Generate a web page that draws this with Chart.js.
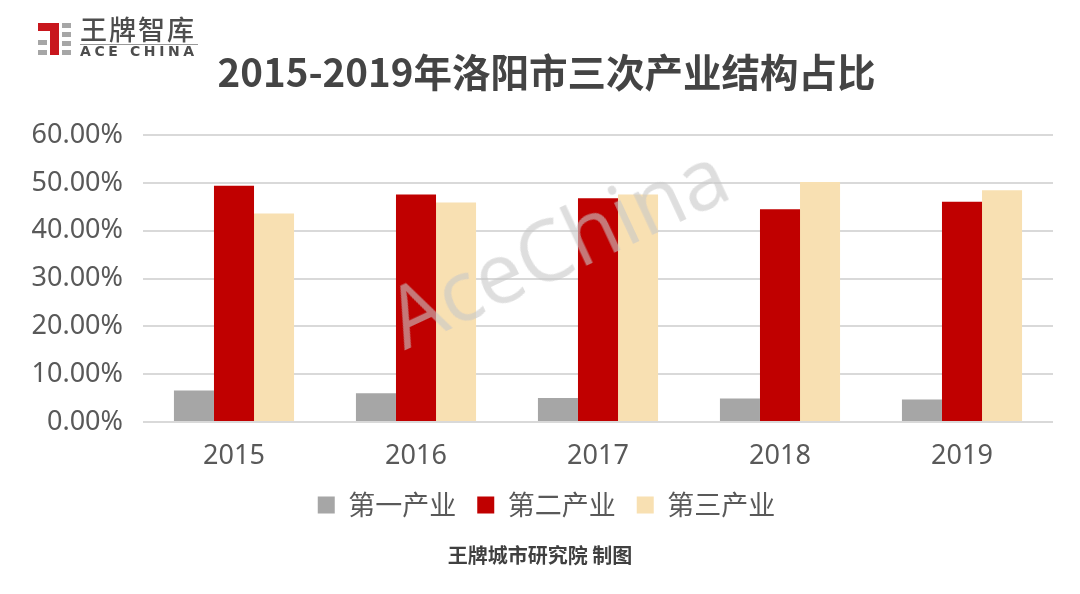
<!DOCTYPE html>
<html>
<head>
<meta charset="utf-8">
<script src="https://cdn.jsdelivr.net/npm/chart.js@4.4.0/dist/chart.umd.min.js"></script>
<style>
  html, body { margin: 0; padding: 0; background: #fff; }
  #wrap { position: relative; width: 1080px; height: 594px; overflow: hidden; }
  #chart { position: absolute; left: 0; top: 0; }
  .logo { position: absolute; left: 38px; top: 20px; width: 162px; height: 38px; }
  .logo .ic { position: absolute; background: #a6a6a6; }
  .logo .red { position: absolute; background: #c8161d; }
  .logo .cn { position: absolute; left: 42px; top: -5px; font: 500 27px "Noto Sans CJK SC", sans-serif; color: #4d4d4d; letter-spacing: 2px; line-height: 28px; }
  .logo .line { position: absolute; left: 42px; top: 24px; width: 118px; height: 1px; background: #999; }
  .logo .en { position: absolute; left: 42px; top: 24px; font: bold 14px "DejaVu Sans", sans-serif; color: #4d4d4d; letter-spacing: 3.6px; line-height: 15px; }
  .mark { position: absolute; left: 556px; top: 244px; transform: translate(-50%, -50%) rotate(-25deg);
          font: 84px "Open Sans", sans-serif; color: rgba(200, 200, 200, 0.6); white-space: nowrap; pointer-events: none; }
  .foot { position: absolute; left: 0; width: 1080px; top: 542px; text-align: center;
          font: bold 20px "Noto Sans CJK SC", sans-serif; color: #404040; line-height: 26px; }
</style>
</head>
<body>
<div id="wrap">
  <canvas id="chart" width="1080" height="594"></canvas>
  <div class="logo">
    <div class="red" style="left:12px;top:3px;width:9px;height:32px"></div>
    <div class="red" style="left:0;top:3px;width:12px;height:8px"></div>
    <div class="ic" style="left:0;top:20px;width:9px;height:5px"></div>
    <div class="ic" style="left:0;top:30px;width:9px;height:5px"></div>
    <div class="ic" style="left:24px;top:3px;width:9px;height:5px"></div>
    <div class="ic" style="left:24px;top:12px;width:9px;height:5px"></div>
    <div class="ic" style="left:24px;top:21px;width:9px;height:5px"></div>
    <div class="ic" style="left:24px;top:30px;width:9px;height:5px"></div>
    <div class="cn">王牌智库</div>
    <div class="line"></div>
    <div class="en">ACE CHINA</div>
  </div>
  <div class="mark">AceChina</div>
  <div class="foot">王牌城市研究院 制图</div>
</div>
<script>
// Chart data (percent)
const years = ['2015', '2016', '2017', '2018', '2019'];
const primary = [6.6, 6.0, 5.0, 4.9, 4.7];
const secondary = [49.4, 47.6, 46.8, 44.5, 46.1];
const tertiary = [43.6, 45.9, 47.6, 50.2, 48.5];
const seriesNames = ['第一产业', '第二产业', '第三产业'];
const yTicks = [0, 10, 20, 30, 40, 50, 60];

const labelColor = '#595959';
const cjk = '"Noto Sans CJK SC", "Noto Sans", sans-serif';

// Let the y labels use the left padding strip (labels are clipped to the scale box)
const widenYLabels = {
    id: 'widenYLabels',
    afterLayout(chart) {
        chart.scales.y.left = 0;
    }
};

const ctx = document.getElementById('chart').getContext('2d');
new Chart(ctx, {
    type: 'bar',
    data: {
        labels: years,
        datasets: [
            { label: seriesNames[0], data: primary, backgroundColor: '#a6a6a6' },
            { label: seriesNames[1], data: secondary, backgroundColor: '#c00000' },
            { label: seriesNames[2], data: tertiary, backgroundColor: '#f8e0b2' }
        ]
    },
    plugins: [widenYLabels],
    options: {
        responsive: false,
        animation: false,
        layout: { padding: { left: 40, right: 27, top: 0, bottom: 65.5 } },
        datasets: {
            bar: { categoryPercentage: 0.66, barPercentage: 1.0 }
        },
        plugins: {
            title: {
                display: true,
                text: '2015-2019年洛阳市三次产业结构占比',
                color: '#444444',
                font: { family: cjk, size: 38.5, weight: 'bold', lineHeight: 1.2 },
                padding: { top: 49, bottom: 40 }
            },
            legend: {
                position: 'bottom',
                labels: {
                    color: labelColor,
                    font: { family: cjk, size: 27 },
                    boxWidth: 17,
                    boxHeight: 17,
                    padding: 21
                }
            },
            tooltip: { enabled: false }
        },
        scales: {
            x: {
                grid: { display: false, drawTicks: false },
                border: { display: false },
                afterFit: scale => { scale.height = 48.5; },
                ticks: {
                    color: labelColor,
                    padding: 21,
                    font: { family: '"Noto Sans", sans-serif', size: 27, lineHeight: 1 }
                }
            },
            y: {
                min: 0,
                max: 60,
                afterBuildTicks: scale => {
                    scale.ticks = yTicks.map(v => ({ value: v }));
                },
                afterFit: scale => { scale.width = 103; },
                grid: { color: '#d9d9d9', lineWidth: 2, drawTicks: false },
                border: { display: false },
                ticks: {
                    color: labelColor,
                    padding: 20,
                    font: { family: '"Noto Sans", sans-serif', size: 27 },
                    callback: value => value.toFixed(2) + '%'
                }
            }
        }
    }
});
</script>
</body>
</html>
